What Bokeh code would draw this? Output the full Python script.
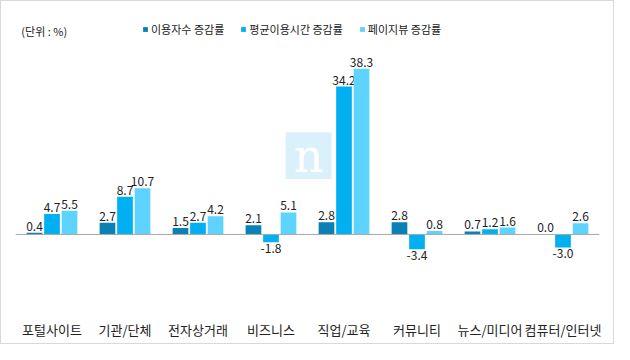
from bokeh.plotting import figure
from bokeh.models import ColumnDataSource, FactorRange, Range1d, Span, Label
from bokeh.transform import dodge
from bokeh.core.properties import value
from bokeh.embed import file_html
from bokeh.resources import INLINE

categories = ["포털사이트", "기관/단체", "전자상거래", "비즈니스", "직업/교육", "커뮤니티", "뉴스/미디어", "컴퓨터/인터넷"]
series_names = ["이용자수 증감률", "평균이용시간 증감률", "페이지뷰 증감률"]
users = [0.4, 2.7, 1.5, 2.1, 2.8, 2.8, 0.7, 0.0]
avg_time = [4.7, 8.7, 2.7, -1.8, 34.2, -3.4, 1.2, -3.0]
page_views = [5.5, 10.7, 4.2, 5.1, 38.3, 0.8, 1.6, 2.6]

colors = ["#0A80B4", "#00B0F0", "#5FD3FF"]
offsets = [-0.24, 0.0, 0.24]
FONT = "Noto Sans CJK KR"

p = figure(width=614, height=344, output_backend="svg", toolbar_location=None,
           x_range=FactorRange(factors=categories, range_padding=0),
           y_range=Range1d(-15.5, 52.0),
           min_border_left=14, min_border_right=16, min_border_top=8, min_border_bottom=44)
p.outline_line_color = None
p.xgrid.visible = False
p.ygrid.visible = False
p.yaxis.visible = False
p.styles = {"border": "1px solid #D9D9D9", "box-sizing": "border-box"}

# watermark logo (decoration)
p.quad(left=[3.70], right=[4.33], bottom=[12.8], top=[23.6], fill_color="#DAF0FB", line_color=None)
p.text(x=[4.015], y=[18.2], text=["n"], text_font=value("DejaVu Serif"), text_font_size="46px",
       text_color="white", text_align="center", text_baseline="middle")

p.add_layout(Span(location=0, dimension="width", line_color="#A6A6A6", line_width=1))

for vals, name, col, off in zip([users, avg_time, page_views], series_names, colors, offsets):
    src = ColumnDataSource(dict(cat=categories, val=vals))
    p.vbar(x=dodge("cat", off, range=p.x_range), top="val", bottom=0, width=0.215,
           fill_color=col, line_color=None, legend_label=name, source=src)
    pos = [(c, v) for c, v in zip(categories, vals) if v >= 0]
    neg = [(c, v) for c, v in zip(categories, vals) if v < 0]
    if pos:
        ps = ColumnDataSource(dict(cat=[c for c, _ in pos], val=[v for _, v in pos],
                                   lbl=[f"{v:.1f}" for _, v in pos]))
        p.text(x=dodge("cat", off, range=p.x_range), y="val", text="lbl", source=ps,
               text_font=value(FONT), text_font_size="12px", text_color="#222222",
               text_align="center", text_baseline="bottom", y_offset=-2)
    if neg:
        ns = ColumnDataSource(dict(cat=[c for c, _ in neg], val=[v for _, v in neg],
                                   lbl=[f"{v:.1f}" for _, v in neg]))
        p.text(x=dodge("cat", off, range=p.x_range), y="val", text="lbl", source=ns,
               text_font=value(FONT), text_font_size="12px", text_color="#222222",
               text_align="center", text_baseline="top", y_offset=2)

p.xaxis.axis_line_color = None
p.xaxis.major_tick_line_color = None
p.xaxis.minor_tick_line_color = None
p.xaxis.major_label_text_font = FONT
p.xaxis.major_label_text_font_size = "13px"
p.xaxis.major_label_text_color = "#222222"
p.xaxis.major_label_standoff = 12

p.add_layout(Label(x=0.08, y=47.1, text="(단위 : %)", text_font=FONT, text_font_size="11px",
                   text_color="#222222", text_baseline="middle"))

lg = p.legend[0]
lg.orientation = "horizontal"
lg.location = (127, 264)
lg.padding = 0
lg.margin = 0
lg.spacing = 16
lg.label_standoff = 3
lg.glyph_width = 6
lg.glyph_height = 6
lg.label_height = 14
lg.label_text_font = FONT
lg.label_text_font_size = "11px"
lg.label_text_color = "#222222"
lg.border_line_color = None
lg.background_fill_alpha = 0

open("out.html", "w").write(file_html(p, INLINE))
